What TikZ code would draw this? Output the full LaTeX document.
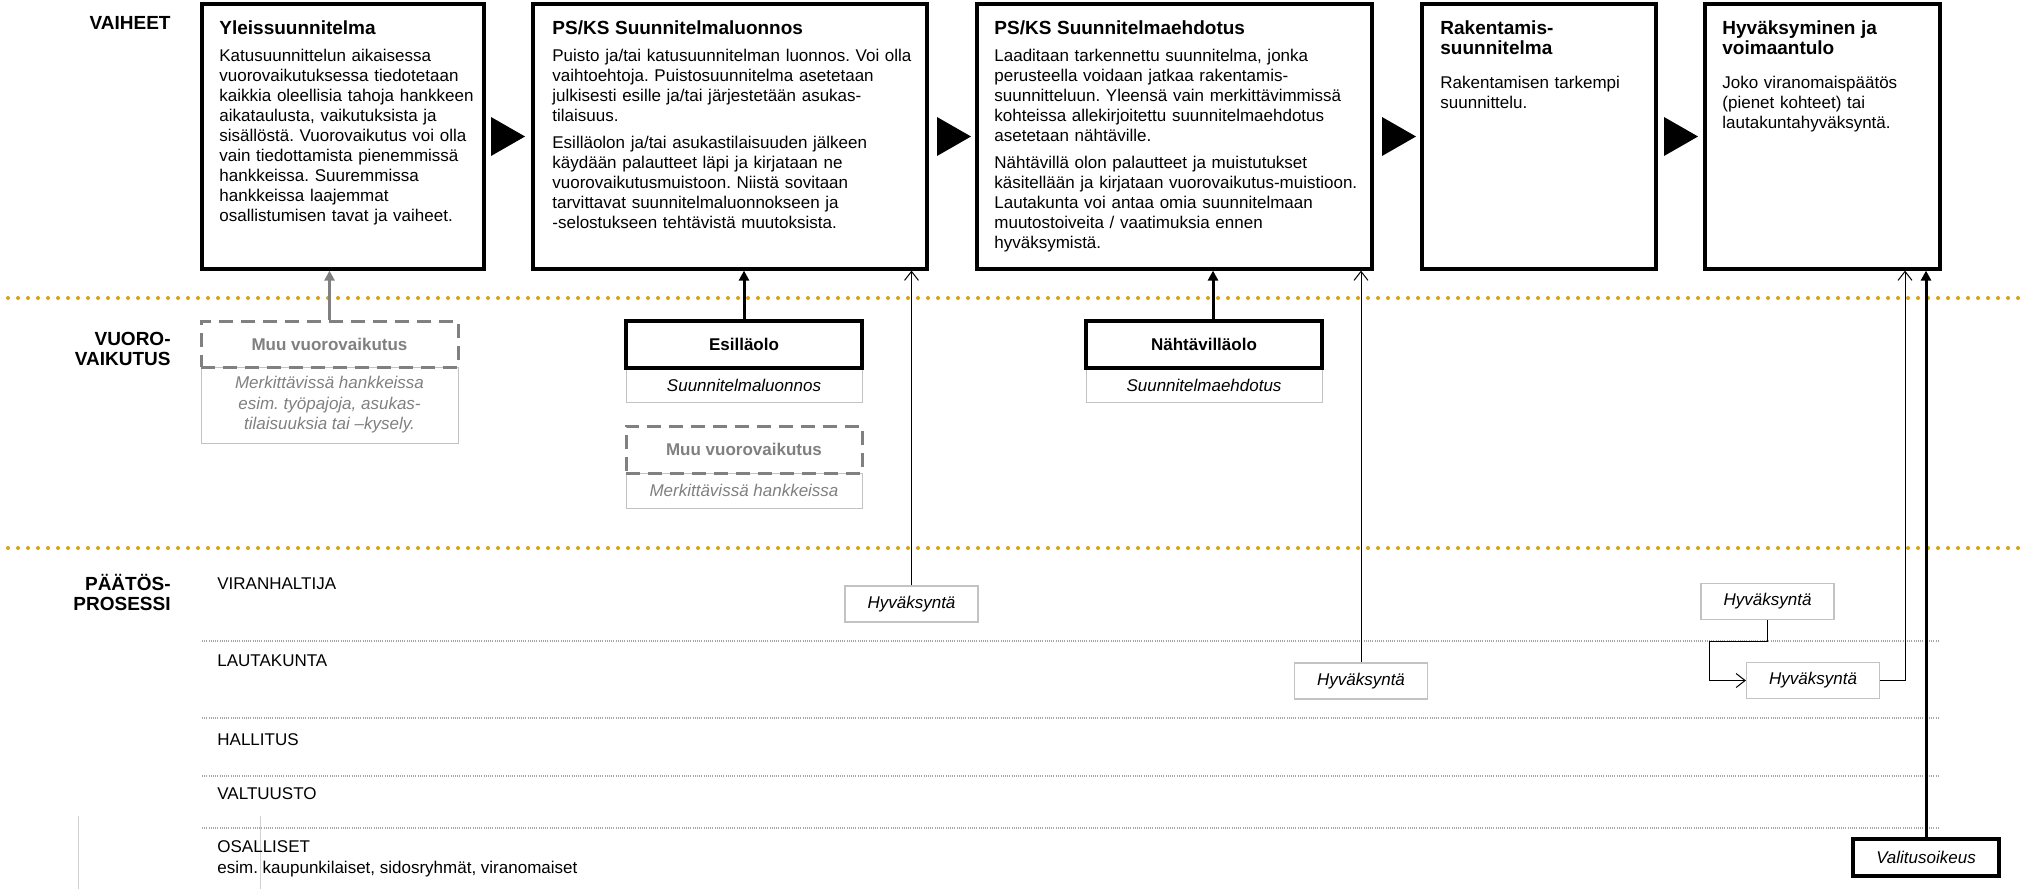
\documentclass[tikz,border=0pt]{standalone}
\usepackage{fontspec}
\setmainfont{Liberation Sans}
\usetikzlibrary{arrows.meta,fit,calc}
\definecolor{gold}{RGB}{214,163,20}
\definecolor{midgray}{RGB}{128,128,128}
\definecolor{lgray}{RGB}{195,195,195}
\newcommand{\ttlfont}{\fontsize{9.5}{10}\selectfont\bfseries\rule{0pt}{8pt}}
\newcommand{\bodyfont}{\fontsize{8.5}{10}\selectfont\setlength{\parindent}{0pt}\frenchspacing}
\begin{document}
\frenchspacing
\begin{tikzpicture}[x=0.5pt, y=-0.5pt,
  bigbox/.style={draw, line width=1.6pt, inner sep=0pt},
  boxtext/.style={anchor=north west, inner sep=0pt, text width=#1, align=left,
     font=\bodyfont},
  lbl/.style={inner sep=0pt, font=\fontsize{9.5}{10}\selectfont\bfseries},
  lane/.style={inner sep=0pt, font=\fontsize{8.5}{10}\selectfont},
  dashbox/.style={draw=midgray, line width=1.5pt, dash pattern=on 7pt off 4pt,
     text=midgray, inner sep=0pt, font=\fontsize{8.5}{10}\selectfont\bfseries},
  descbox/.style={draw=lgray, line width=0.5pt, align=center, inner sep=0pt,
     font=\fontsize{8.5}{10.25}\selectfont\itshape},
  thickbox/.style={draw, line width=1.6pt, inner sep=0pt, fill=white,
     font=\fontsize{8.5}{10}\selectfont\bfseries},
  hbox/.style={draw=lgray, line width=0.6pt, fill=white, inner sep=0pt,
     minimum width=66.5pt, minimum height=18pt, font=\fontsize{8.5}{10}\selectfont\itshape},
  valbox/.style={draw, line width=1.6pt, fill=white, inner sep=0pt,
     minimum width=73pt, minimum height=18.5pt, font=\fontsize{8.5}{10}\selectfont\itshape},
  golddot/.style={draw=gold, line width=2pt, line cap=round, dash pattern=on 0pt off 5pt},
  lanedot/.style={draw=gray!70, line width=0.6pt, dash pattern=on 0.5pt off 0.6pt},
  faint/.style={draw=gray!35, line width=0.4pt},
  thickarr/.style={line width=1.5pt, -{Triangle[length=5pt,width=5pt]}},
  grayarr/.style={thickarr, draw=midgray, color=midgray},
  thinarr/.style={line width=0.5pt, -{Straight Barb[length=4.5pt,width=7pt]}}
]
\useasboundingbox (0,0) rectangle (2022,889);

% separators
\draw[golddot] (8,298) -- (2018,298);
\draw[golddot] (8,548) -- (2018,548);
\foreach \yy in {641,718,776,828} \draw[lanedot] (202,\yy) -- (1939,\yy);
\draw[faint] (78,816) -- (78,889);
\draw[faint] (260,816) -- (260,889);

% row labels
\node[lbl, anchor=base east] (vaiheet) at (171,29) {VAIHEET};
\node[lbl, anchor=north east, align=right] (vuoro) at (171,327) {\rule{0pt}{9pt}VUORO-\\VAIKUTUS};
\node[lbl, anchor=north east, align=right] (paatos) at (171,572) {\rule{0pt}{9pt}PÄÄTÖS-\\PROSESSI};

\node[lane, anchor=base west] (viran) at (217,589) {VIRANHALTIJA};
\node[lane, anchor=base west] (lauta) at (217,666) {LAUTAKUNTA};
\node[lane, anchor=base west] (hall) at (217,745) {HALLITUS};
\node[lane, anchor=base west] (valt) at (217,799) {VALTUUSTO};
\node[lane, anchor=base west] (osal) at (217,852) {OSALLISET};
\node[lane, anchor=base west] (osal2) at (217,873) {esim. kaupunkilaiset, sidosryhmät, viranomaiset};

% phase boxes
\node[bigbox, fit={(202,4) (484,269)}] (b1) {};
\node[bigbox, fit={(533,4) (927,269)}] (b2) {};
\node[bigbox, fit={(977,4) (1372,269)}] (b3) {};
\node[bigbox, fit={(1422,4) (1656,269)}] (b4) {};
\node[bigbox, fit={(1705,4) (1940,269)}] (b5) {};

\node[boxtext=131pt] (b1t) at (219,18) {{\ttlfont Yleissuunnitelma\par}\vspace{3.7pt}%
Katusuunnittelun aikaisessa\\
vuorovaikutuksessa tiedotetaan\\
kaikkia oleellisia tahoja hankkeen\\
aikataulusta, vaikutuksista ja\\
sisällöstä. Vuorovaikutus voi olla\\
vain tiedottamista pienemmissä\\
hankkeissa. Suuremmissa\\
hankkeissa laajemmat\\
osallistumisen tavat ja vaiheet.};

\node[boxtext=185pt] (b2t) at (552,18) {{\ttlfont PS/KS Suunnitelmaluonnos\par}\vspace{3.7pt}%
Puisto ja/tai katusuunnitelman luonnos. Voi olla\\
vaihtoehtoja. Puistosuunnitelma asetetaan\\
julkisesti esille ja/tai järjestetään asukas-\\
tilaisuus.\par\vspace{3.5pt}%
Esilläolon ja/tai asukastilaisuuden jälkeen\\
käydään palautteet läpi ja kirjataan ne\\
vuorovaikutusmuistoon. Niistä sovitaan\\
tarvittavat suunnitelmaluonnokseen ja\\
-selostukseen tehtävistä muutoksista.};

\node[boxtext=185pt] (b3t) at (994,18) {{\ttlfont PS/KS Suunnitelmaehdotus\par}\vspace{3.7pt}%
Laaditaan tarkennettu suunnitelma, jonka\\
perusteella voidaan jatkaa rakentamis-\\
suunnitteluun. Yleensä vain merkittävimmissä\\
kohteissa allekirjoitettu suunnitelmaehdotus\\
asetetaan nähtäville.\par\vspace{3.5pt}%
Nähtävillä olon palautteet ja muistutukset\\
käsitellään ja kirjataan vuorovaikutus-muistioon.\\
Lautakunta voi antaa omia suunnitelmaan\\
muutostoiveita / vaatimuksia ennen\\
hyväksymistä.};

\node[boxtext=105pt] (b4t) at (1440,18) {{\ttlfont Rakentamis-\\suunnitelma\par}\vspace{7.15pt}%
Rakentamisen tarkempi\\
suunnittelu.};

\node[boxtext=105pt] (b5t) at (1722,18) {{\ttlfont Hyväksyminen ja\\voimaantulo\par}\vspace{7.15pt}%
Joko viranomaispäätös\\
(pienet kohteet) tai\\
lautakuntahyväksyntä.};

% arrows between phases
\foreach \tx in {491,937,1382,1664} \fill (\tx,117) -- ++(34,19.5) -- ++(-34,19.5) -- cycle;

% interaction boxes
\node[descbox, text=midgray, minimum width=128.5pt, minimum height=38pt] (mv1d) at (329.5,405)
  {Merkittävissä hankkeissa\\esim. työpajoja, asukas-\\tilaisuuksia tai –kysely.};
\node[dashbox, fill=white, minimum width=128.5pt, minimum height=23pt] (mv1) at (329.5,344) {Muu vuorovaikutus};

\node[descbox, minimum width=118pt, minimum height=17pt] (esd) at (744,385) {Suunnitelmaluonnos};
\node[thickbox, minimum width=118pt, minimum height=23.5pt] (es) at (744,344.5) {Esilläolo};

\node[descbox, text=midgray, minimum width=118pt, minimum height=17.5pt] (mv2d) at (744,490.5) {Merkittävissä hankkeissa};
\node[dashbox, fill=white, minimum width=118pt, minimum height=23.5pt] (mv2) at (744,449.5) {Muu vuorovaikutus};

\node[descbox, minimum width=118pt, minimum height=17pt] (nad) at (1204,385) {Suunnitelmaehdotus};
\node[thickbox, minimum width=118pt, minimum height=23.5pt] (na) at (1204,344.5) {Nähtävilläolo};

% decision boxes
\node[hbox] (h1) at (911.5,604) {Hyväksyntä};
\node[hbox] (h2) at (1361,681) {Hyväksyntä};
\node[hbox] (h3) at (1767.5,601.5) {Hyväksyntä};
\node[hbox] (h4) at (1813,680.5) {Hyväksyntä};
\node[valbox] (val) at (1926,857.5) {Valitusoikeus};

% connectors
\draw[grayarr] (mv1.north) -- (mv1.north |- b1.south);
\draw[thickarr] (es.north) -- (es.north |- b2.south);
\coordinate (naup) at ($(na.north)+(9,0)$);
\draw[thickarr] (naup) -- (naup |- b3.south);
\draw[thinarr] (h1.north) -- (h1.north |- b2.south);
\draw[thinarr] (h2.north) -- (h2.north |- b3.south);
\coordinate (c1) at (1709,641);
\draw[thinarr] (h3.south) |- (c1) |- (h4.west);
\coordinate (c2) at (1905,680.5);
\draw[thinarr] (h4.east) -- (c2) -- (c2 |- b5.south);
\draw[thickarr] (val.north) -- (val.north |- b5.south);
\end{tikzpicture}
\end{document}
